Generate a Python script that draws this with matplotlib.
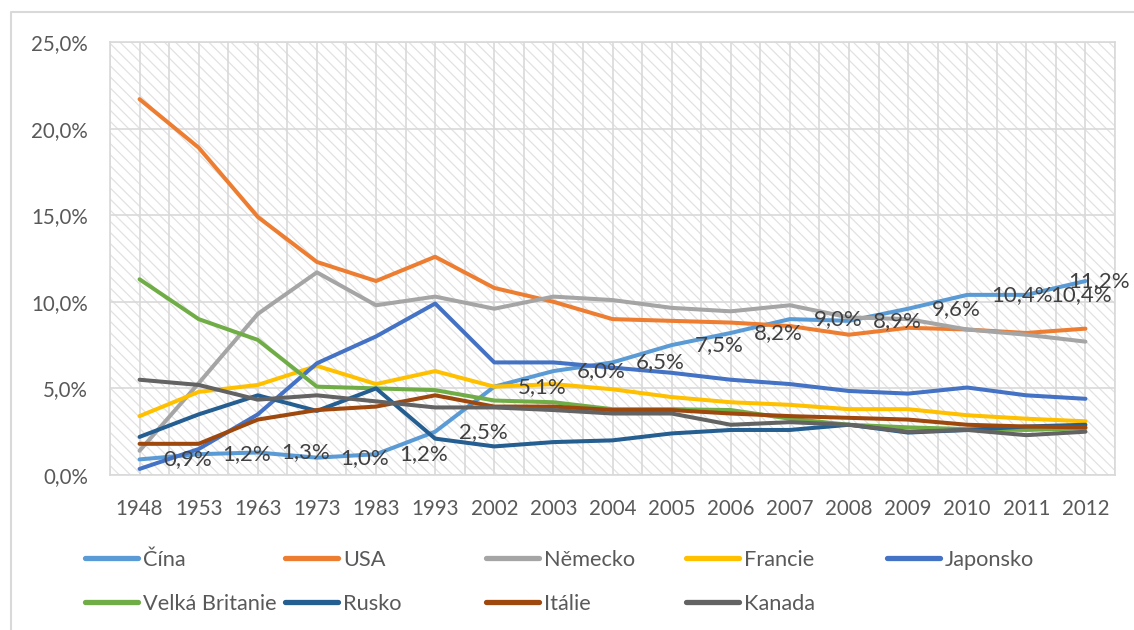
import matplotlib
matplotlib.use("Agg")
import matplotlib.pyplot as plt
from matplotlib.patches import Rectangle
from matplotlib.lines import Line2D
from matplotlib.ticker import FuncFormatter, MultipleLocator
import numpy as np

plt.rcParams['font.family'] = ['Lato', 'DejaVu Sans']
plt.rcParams['hatch.linewidth'] = 0.9

years = ["1948", "1953", "1963", "1973", "1983", "1993", "2002", "2003", "2004",
         "2005", "2006", "2007", "2008", "2009", "2010", "2011", "2012"]

cina = [0.9, 1.2, 1.3, 1.0, 1.2, 2.5, 5.1, 6.0, 6.5, 7.5, 8.2, 9.0, 8.9, 9.6, 10.4, 10.4, 11.2]
usa = [21.7, 18.9, 14.9, 12.3, 11.2, 12.6, 10.8, 10.0, 9.0, 8.9, 8.8, 8.6, 8.1, 8.5, 8.4, 8.2, 8.45]
nemecko = [1.4, 5.3, 9.3, 11.7, 9.8, 10.3, 9.6, 10.3, 10.1, 9.65, 9.45, 9.8, 9.1, 9.0, 8.4, 8.1, 7.7]
francie = [3.4, 4.8, 5.2, 6.3, 5.25, 6.0, 5.1, 5.25, 4.95, 4.5, 4.2, 4.05, 3.8, 3.8, 3.45, 3.25, 3.1]
japonsko = [0.35, 1.5, 3.5, 6.45, 8.0, 9.9, 6.5, 6.5, 6.2, 5.9, 5.5, 5.25, 4.85, 4.7, 5.05, 4.6, 4.4]
velka_britanie = [11.3, 9.0, 7.8, 5.1, 5.0, 4.9, 4.3, 4.2, 3.8, 3.8, 3.75, 3.25, 2.9, 2.75, 2.65, 2.6, 2.7]
rusko = [2.2, 3.5, 4.6, 3.7, 5.0, 2.1, 1.65, 1.9, 2.0, 2.4, 2.6, 2.6, 2.9, 2.45, 2.6, 2.8, 2.9]
italie = [1.8, 1.8, 3.2, 3.75, 3.95, 4.6, 3.95, 3.95, 3.75, 3.75, 3.55, 3.4, 3.3, 3.2, 2.9, 2.8, 2.75]
kanada = [5.5, 5.2, 4.35, 4.6, 4.25, 3.9, 3.9, 3.75, 3.55, 3.55, 2.9, 3.05, 2.9, 2.5, 2.6, 2.3, 2.5]

names = ["Čína", "USA", "Německo", "Francie", "Japonsko", "Velká Britanie", "Rusko", "Itálie", "Kanada"]
series = [cina, usa, nemecko, francie, japonsko, velka_britanie, rusko, italie, kanada]
colors = ["#5B9BD5", "#ED7D31", "#A5A5A5", "#FFC000", "#4472C4", "#70AD47", "#255E91", "#9E480E", "#636363"]

W, H = 1134, 630
fig = plt.figure(figsize=(W / 100, H / 100), dpi=100)
fig.patch.set_facecolor("white")

# plot area in pixels
L, R, T, B = 110, 1115, 42, 475
ax = fig.add_axes([L / W, 1 - B / H, (R - L) / W, (B - T) / H])
ax.set_facecolor("white")

grid_c = "#D9D9D9"
ax.add_patch(Rectangle((0, 0), 1, 1, transform=ax.transAxes, facecolor="white",
                       edgecolor="#E2E2E2", hatch="\\\\\\", linewidth=0, zorder=0))

x = np.arange(len(years))
lines = []
for name, vals, c in zip(names, series, colors):
    ln, = ax.plot(x, vals, color=c, lw=2.9, solid_capstyle="round", solid_joinstyle="round",
                  label=name, zorder=3)
    lines.append(ln)

# data labels for Čína
for i, v in enumerate(cina):
    txt = f"{v:.1f}".replace(".", ",") + "%"
    if i == len(cina) - 1:
        ax.annotate(txt, (x[i], v), xytext=(32, 0), textcoords="offset points",
                    ha="right", va="center", fontsize=16, color="#404040", zorder=5,
                    annotation_clip=False)
    else:
        ax.annotate(txt, (x[i], v), xytext=(17, 0), textcoords="offset points",
                    ha="left", va="center", fontsize=16, color="#404040", zorder=5)

ax.set_xlim(-0.5, len(years) - 0.5)
ax.set_ylim(0, 25)
ax.set_xticks(x)
ax.set_xticklabels(years)
ax.xaxis.set_minor_locator(MultipleLocator(0.5))
ax.set_yticks(np.arange(0, 26, 5))
ax.yaxis.set_major_formatter(FuncFormatter(lambda v, p: f"{v:.1f}".replace(".", ",") + "%"))
ax.tick_params(axis="both", which="both", length=0, labelsize=14.8, labelcolor="#595959")
ax.tick_params(axis="x", pad=17)
ax.tick_params(axis="y", pad=16)
ax.grid(True, axis="x", which="both", color=grid_c, lw=1.2, zorder=1)
ax.grid(True, axis="y", which="major", color=grid_c, lw=1.2, zorder=1)
ax.set_axisbelow(True)
for s in ax.spines.values():
    s.set_color(grid_c)
    s.set_linewidth(1.2)

# legend: 5 columns, 2 rows, uniform column pitch
col_x = [85, 285, 486, 686, 887]
row_y = [560, 604]
for k, ln in enumerate(lines):
    r, c = divmod(k, 5)
    h = Line2D([], [], color=ln.get_color(), lw=3.8, solid_capstyle="round")
    fig.legend([h], [ln.get_label()], loc="center left",
               bbox_to_anchor=(col_x[c] / W, 1 - row_y[r] / H),
               frameon=False, fontsize=15.7, handlelength=2.45, handletextpad=0.2,
               borderpad=0, borderaxespad=0, labelcolor="#595959")

# chart outer border
fig.add_artist(Line2D([11 / W, 11 / W, 1.0], [0.0, 1 - 12 / H, 1 - 12 / H],
                      transform=fig.transFigure, color="#D9D9D9", lw=1.5))

fig.savefig("out.png", dpi=100, facecolor="white")
